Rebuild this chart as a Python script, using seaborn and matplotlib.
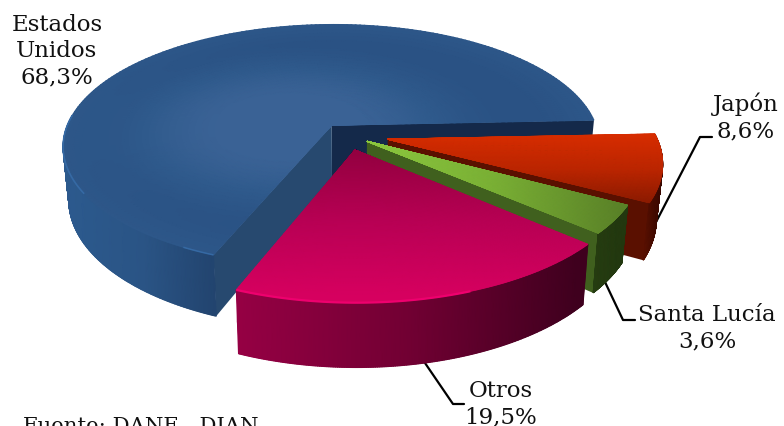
import numpy as np
import pandas as pd
import matplotlib
matplotlib.use("Agg")
import matplotlib.pyplot as plt
import seaborn as sns

# --- data ---
paises = ["Estados\nUnidos", "Otros", "Santa Lucía", "Japón"]
valores = [68.3, 19.5, 3.6, 8.6]
etiquetas = ["68,3%", "19,5%", "3,6%", "8,6%"]
fuente = "Fuente: DANE - DIAN"

# --- layout / projection ---
W, H_PX = 784, 427
CX, CY, RX, RY, K, WALL, SHRINK = 347, 136, 268, 121, 0.17, 52.5, 0.98
START_DEG = 2.5
EXPLODE = [0.10, 0.125, 0.09, 0.155]

sns.set_theme(style="white")
fig = plt.figure(figsize=(W / 100, H_PX / 100), dpi=100)
ax = fig.add_axes([0, 0, 1, 1])
ax.set_xlim(0, W)
ax.set_ylim(H_PX, 0)
ax.axis("off")


def proj(X, Y, z=0.0):
    w = 1 / (1 + K * Y)
    x = CX + RX * X * w
    y = CY - RY * Y * w
    x = CX + (x - CX) * (1 - (1 - SHRINK) * z)
    y = y + WALL * w * z
    return x, y


fracs = np.array(valores) / sum(valores) * 360
edges = START_DEG + np.concatenate([[0], np.cumsum(fracs)])
spans = [(edges[i], edges[i + 1]) for i in range(4)]
offs = []
for (a, b), e in zip(spans, EXPLODE):
    m = np.radians((a + b) / 2)
    offs.append((e * np.cos(m), e * np.sin(m)))


def grid(i, deg0=None, deg1=None, n=220):
    a, b = spans[i]
    a = a if deg0 is None else deg0
    b = b if deg1 is None else deg1
    th = np.radians(np.linspace(a, b, n))
    return th, offs[i]


def top(i, cmap, fn, zorder):
    th, (ox, oy) = grid(i)
    r = np.concatenate([np.linspace(0, 0.96, 40), [0.985, 1.0]])
    T, R = np.meshgrid(th, r)
    X = R * np.cos(T) + ox
    Y = R * np.sin(T) + oy
    px, py = proj(X, Y)
    ax.pcolormesh(px, py, fn(px, py, X, Y, R), cmap=cmap, vmin=0, vmax=1,
                  shading="gouraud", zorder=zorder, rasterized=True)


def outer(i, cmap, fn, zorder, deg0=None, deg1=None):
    th, (ox, oy) = grid(i, deg0, deg1)
    z = np.linspace(0, 1, 3)
    T, Z = np.meshgrid(th, z)
    X = np.cos(T) + ox
    Y = np.sin(T) + oy
    px, py = proj(X, Y, Z)
    ax.pcolormesh(px, py, fn(px), cmap=cmap, vmin=0, vmax=1,
                  shading="gouraud", zorder=zorder, rasterized=True)


def radial(i, deg, color, zorder):
    ox, oy = offs[i]
    c, s = np.cos(np.radians(deg)), np.sin(np.radians(deg))
    pts = [proj(ox, oy, 0), proj(ox + c, oy + s, 0), proj(ox + c, oy + s, 1), proj(ox, oy, 1)]
    ax.fill([p[0] for p in pts], [p[1] for p in pts], color=color, lw=0, zorder=zorder)


def rim(i, deg0, deg1, color, lw, zorder, alpha=1.0):
    th, (ox, oy) = grid(i, deg0, deg1, n=80)
    px, py = proj(np.cos(th) + ox, np.sin(th) + oy)
    ax.plot(px, py, color=color, lw=lw, alpha=alpha, zorder=zorder, solid_capstyle="butt")


def ramp(v, lo, hi):
    return np.clip((v - lo) / (hi - lo), 0, 1)


# colour ramps
cm_blue_top = sns.blend_palette(["#2a5284", "#2f5a8c", "#3a6295"], as_cmap=True)
cm_blue_wall = sns.blend_palette(["#2c5a8e", "#2a5485", "#21426c"], as_cmap=True)
cm_otros_top = sns.blend_palette(["#930040", "#b80054", "#d6005f"], as_cmap=True)
cm_otros_wall = sns.blend_palette(["#960044", "#720033", "#3f001e"], as_cmap=True)
cm_green_top = sns.blend_palette(["#8dc93f", "#7ab035", "#5a8228"], as_cmap=True)
cm_green_wall = sns.blend_palette(["#263d11", "#22380f"], as_cmap=True)
cm_jap_top = sns.blend_palette(["#d62c00", "#bb2500", "#8a1a00"], as_cmap=True)
cm_jap_wall = sns.blend_palette(["#5a1000", "#3a0800"], as_cmap=True)


def blue_top_val(px, py, X, Y, R):
    d = np.hypot((X + 0.22), (Y - 0.08) * 1.05)
    t = 1 - ramp(d, 0.25, 0.85)
    return t * t * (3 - 2 * t) + 0.3 * ramp(R, 0.8, 1.0)


# leader lines (behind the pie)
leaders = [
    ([712, 700, 655], [138, 138, 225]),
    ([635, 623, 605], [321, 321, 283]),
    ([464, 453, 425], [405, 405, 364]),
]
for lx, ly in leaders:
    d = pd.DataFrame({"x": lx, "y": ly})
    sns.lineplot(data=d, x="x", y="y", sort=False, estimator=None, color="black",
                 lw=1.6, ax=ax, zorder=1)
ax.set_xlim(0, W)
ax.set_ylim(H_PX, 0)
ax.axis("off")

# Estados Unidos
radial(0, spans[0][0], "#14294a", 2)
radial(0, spans[0][1], "#27496f", 2.1)
outer(0, cm_blue_wall, lambda p: ramp(p, 63, 225), 2.2, deg0=175)
top(0, cm_blue_top, blue_top_val, 2.3)
rim(0, 175, 212, "#3a72b0", 1.2, 2.4, 0.7)
rim(0, 242, spans[0][1], "#3a72b0", 1.1, 2.4, 0.7)

# Japón
radial(3, spans[3][0], "#5a1000", 3)
outer(3, cm_jap_wall, lambda p: ramp(p, 645, 660), 3.1)
top(3, cm_jap_top, lambda px, py, X, Y, R: ramp(py, 136, 205), 3.2)

# Santa Lucía
radial(2, spans[2][0], "#40601e", 4)
outer(2, cm_green_wall, lambda p: ramp(p, 590, 620), 4.1)
top(2, cm_green_top, lambda px, py, X, Y, R: ramp(px, 365, 622), 4.2)

# Otros
outer(1, cm_otros_wall, lambda p: ramp(p, 235, 578), 5)
top(1, cm_otros_top, lambda px, py, X, Y, R: ramp(py, 150, 295), 5.1)
rim(1, spans[1][0], spans[1][0] + 42, "#ee006e", 1.6, 5.2)

# labels
font = dict(family="DejaVu Serif", fontsize=16.5, color="#111111", ha="center", va="center",
            linespacing=1.26, zorder=10)
ax.text(57, 51, f"{paises[0]}\n{etiquetas[0]}", **font)
ax.text(746, 117, f"{paises[3]}\n{etiquetas[3]}", **font)
ax.text(707, 328, f"{paises[2]}\n{etiquetas[2]}", **font)
ax.text(501, 404, f"{paises[1]}\n{etiquetas[1]}", **font)
ax.text(23, 417, fuente, family="DejaVu Serif", fontsize=15.3, color="#111111",
        ha="left", va="top", zorder=10)

fig.savefig("out.png", dpi=100, facecolor="white")
